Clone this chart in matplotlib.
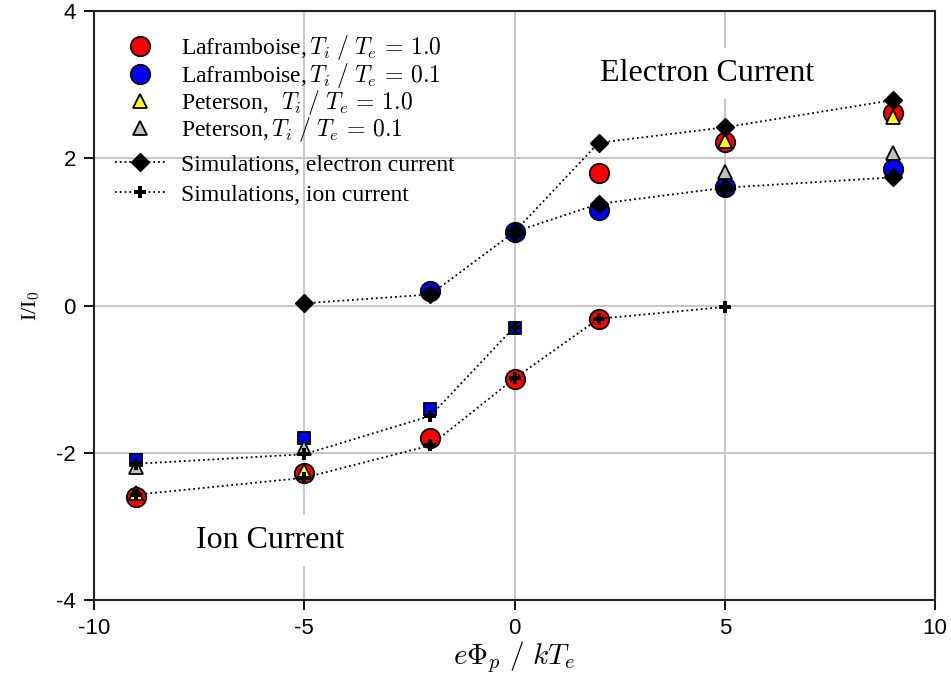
import matplotlib
matplotlib.use('Agg')
import matplotlib.pyplot as plt
import numpy as np

plt.rcParams['mathtext.fontset'] = 'cm'
plt.rcParams['font.family'] = 'Liberation Serif'
plt.rcParams['axes.unicode_minus'] = False

# Laframboise theory
x_lf10 = [-9, -5, -2, 0, 2, 2, 5, 9]
y_lf10 = [-2.6, -2.28, -1.8, -1.0, -0.18, 1.8, 2.22, 2.61]
x_lf01 = [-2, 0, 2, 5, 9]
y_lf01 = [0.2, 1.0, 1.3, 1.61, 1.86]
x_lf01_ion = [-9, -5, -2, 0]
y_lf01_ion = [-2.1, -1.8, -1.4, -0.3]

# Peterson
x_pt10 = [-9, -5, 5, 9]
y_pt10 = [-2.55, -2.25, 2.24, 2.56]
x_pt01 = [-9, -5, 5, 9]
y_pt01 = [-2.19, -1.93, 1.81, 2.07]

# simulations, electron current
x_se_a = [-5, -2, 0, 2, 5, 9]
y_se_a = [0.03, 0.15, 1.0, 2.21, 2.42, 2.79]
x_se_b = [0, 2, 5, 9]
y_se_b = [1.0, 1.38, 1.6, 1.74]

# simulations, ion current
x_si_a = [-9, -5, -2, 0]
y_si_a = [-2.15, -2.02, -1.5, -0.29]
x_si_b = [-9, -5, -2, 0, 2, 5]
y_si_b = [-2.57, -2.34, -1.9, -0.99, -0.18, -0.02]

fig = plt.figure(figsize=(9.51, 6.94), dpi=100)
ax = fig.add_axes([94 / 951, 1 - 600 / 694, (935 - 94) / 951, (600 - 11) / 694])

h1, = ax.plot(x_lf10, y_lf10, 'o', ms=14, mfc='red', mec='black', mew=1.3,
              ls='none', label=r'Laframboise,$\,T_i\;/\;T_e\, =\, 1.0$', zorder=3)
h2, = ax.plot(x_lf01, y_lf01, 'o', ms=14, mfc='blue', mec='black', mew=1.3,
              ls='none', label=r'Laframboise,$\,T_i\;/\;T_e\, =\, 0.1$', zorder=3)
ax.plot(x_lf01_ion, y_lf01_ion, 's', ms=9, mfc='blue', mec='black', mew=1.3,
        ls='none', zorder=3)
h3, = ax.plot(x_pt10, y_pt10, '^', ms=10, mfc='yellow', mec='black', mew=1.3,
              ls='none', label=r'Peterson, $\ T_i\;/\;T_e\, =\, 1.0$', zorder=4)
h4, = ax.plot(x_pt01, y_pt01, '^', ms=10, mfc='#c0c0c0', mec='black', mew=1.3,
              ls='none', label=r'Peterson,$\,T_i\;/\;T_e\, =\, 0.1$', zorder=4)

sim_kw = dict(color='black', ls=':', lw=1.3, zorder=5)
h5, = ax.plot(x_se_a, y_se_a, marker='D', ms=9.5, label='Simulations, electron current', **sim_kw)
ax.plot(x_se_b, y_se_b, marker='D', ms=9.5, **sim_kw)
h6, = ax.plot(x_si_a, y_si_a, marker='P', ms=9, mew=0, label='Simulations, ion current', **sim_kw)
ax.plot(x_si_b, y_si_b, marker='P', ms=9, mew=0, **sim_kw)

ax.set_xlim(-10, 10)
ax.set_ylim(-4, 4)
ax.set_xticks([-10, -5, 0, 5, 10])
ax.set_yticks([-4, -2, 0, 2, 4])
ax.grid(True, color='#c8c8c8', lw=1.5, zorder=0)
ax.set_axisbelow(True)
for s in ax.spines.values():
    s.set_color('#222222')
    s.set_linewidth(1.5)
ax.tick_params(direction='out', length=7, width=1.3, top=False, right=False,
               labelsize=16, pad=6)
for lab in ax.get_xticklabels() + ax.get_yticklabels():
    lab.set_family('Liberation Sans')

ax.set_xlabel(r'$e\Phi_p\ /\ kT_e$', fontsize=21, labelpad=0)
ax.set_ylabel(r'I/I$_0$', fontsize=16, labelpad=10)

bbox = dict(facecolor='white', edgecolor='none', pad=8)
ax.text(4.58, 3.15, 'Electron Current', fontsize=23, ha='center', va='center',
        bbox=bbox, zorder=2)
ax.text(-5.81, -3.19, 'Ion Current', fontsize=23, ha='center', va='center',
        bbox=bbox, zorder=2)

leg_kw = dict(loc='upper left', frameon=False, fontsize=17, handlelength=2.1,
              handletextpad=0.7, numpoints=1)
leg1 = ax.legend(handles=[h1, h2, h3, h4], bbox_to_anchor=(0.0, 0.998),
                 labelspacing=-0.07, borderaxespad=0.5, **leg_kw)
ax.add_artist(leg1)
ax.legend(handles=[h5, h6], bbox_to_anchor=(0.025, 0.757),
          labelspacing=0.36, borderaxespad=0, borderpad=0, **leg_kw)

fig.savefig('out.png', dpi=100)
